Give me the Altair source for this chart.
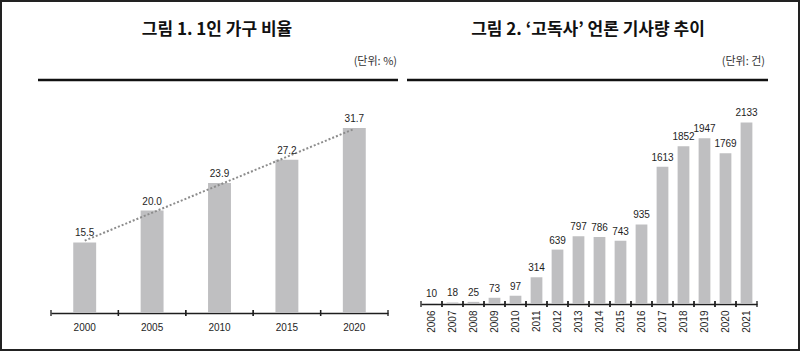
import altair as alt
import pandas as pd

# ---- data ----
years1 = ['2000', '2005', '2010', '2015', '2020']
ratio1 = [15.5, 20.0, 23.9, 27.2, 31.7]

years2 = ['2006', '2007', '2008', '2009', '2010', '2011', '2012', '2013',
          '2014', '2015', '2016', '2017', '2018', '2019', '2020', '2021']
counts2 = [10, 18, 25, 73, 97, 314, 639, 797, 786, 743, 935, 1613, 1852, 1947, 1769, 2133]

titles = ['그림 1. 1인 가구 비율', '그림 2. ‘고독사’ 언론 기사량 추이']
units = ['(단위: %)', '(단위: 건)']

df1 = pd.DataFrame({'Year': years1, 'Value': ratio1})
df2 = pd.DataFrame({'Year': years2, 'Value': counts2})

BAR = '#bfbfc1'
INK = '#1e1e1e'
NUMFONT = 'Liberation Sans'
KFONT = 'Noto Sans CJK KR'


def panel(df, W, H, domain, band, angle, pad, fmt, title, unit,
          tx, ux, rx0, rx1, trend=False, frame=False):
    base = alt.Chart(df)
    xs = alt.Scale(paddingInner=0, paddingOuter=0)
    xaxis = alt.Axis(labelAngle=angle, labelPadding=pad, ticks=False,
                     tickSize=0, domainColor=INK, domainWidth=1.5,
                     labelFont=NUMFONT, labelFontSize=10,
                     labelColor=INK, grid=False, title=None)
    bars = base.mark_bar(color=BAR, width=alt.RelativeBandSize(band)).encode(
        x=alt.X('Year:N', scale=xs, title=None, axis=xaxis),
        y=alt.Y('Value:Q', scale=alt.Scale(domain=domain, nice=False, zero=False),
                axis=None),
        y2=alt.datum(domain[0]),
    )
    layers = [bars]
    if trend:
        line = base.transform_calculate(yr='toNumber(datum.Year)').transform_regression(
            'yr', 'Value').transform_calculate(Year='toString(datum.yr)').mark_line(
            color='#8c8c8c', strokeDash=[2, 2], strokeWidth=2).encode(
            x=alt.X('Year:N', title=None, axis=xaxis),
            y=alt.Y('Value:Q', axis=None),
        )
        layers.append(line)
    labels = base.mark_text(dy=-6, fontSize=10, font=NUMFONT, color=INK,
                            baseline='alphabetic').encode(
        x=alt.X('Year:N', title=None, axis=xaxis),
        y=alt.Y('Value:Q', axis=None),
        text=alt.Text('Value:Q', format=fmt),
    )
    layers.append(labels)
    for bp in (0, 1):
        ticks = base.mark_rule(color=INK, strokeWidth=1.3).encode(
            x=alt.X('Year:N', bandPosition=bp, title=None, axis=xaxis),
            y=alt.value(H - 3), y2=alt.value(H + 3),
        )
        layers.append(ticks)
    tdf = pd.DataFrame({'t': [title]})
    layers.append(alt.Chart(tdf).mark_text(font=KFONT, fontSize=17, fontWeight='bold',
                                           color='#111', align='center',
                                           baseline='middle').encode(
        text='t:N', x=alt.value(tx), y=alt.value(-20)))
    udf = pd.DataFrame({'u': [unit]})
    layers.append(alt.Chart(udf).mark_text(font=KFONT, fontSize=11, color='#333',
                                           align='right', baseline='middle').encode(
        text='u:N', x=alt.value(ux), y=alt.value(12)))
    layers.append(alt.Chart(udf).mark_rule(color='#111', strokeWidth=2.5).encode(
        x=alt.value(rx0), x2=alt.value(rx1), y=alt.value(30)))
    if frame:
        layers.append(alt.Chart(udf).mark_rect(fillOpacity=0, stroke='#222',
                                               strokeWidth=2).encode(
            x=alt.value(-50), x2=alt.value(748), y=alt.value(-49), y2=alt.value(300)))
    return alt.layer(*layers).properties(width=W, height=H)


left = panel(df1, 337, 263, [5.5, 42.75], 0.34, 0, 9, '.1f', titles[0], units[0],
             166, 346, -13, 347, trend=True, frame=True)
right = panel(df2, 336, 254, [0, 2983], 0.56, 270, 6, 'd', titles[1], units[1],
              167, 344, -14, 347)

chart = alt.hconcat(left, right, spacing=33, bounds='flush').properties(
    padding=0, background='white').configure_view(stroke=None)

chart.save('out.html', embed_options={'renderer': 'svg', 'actions': False})
